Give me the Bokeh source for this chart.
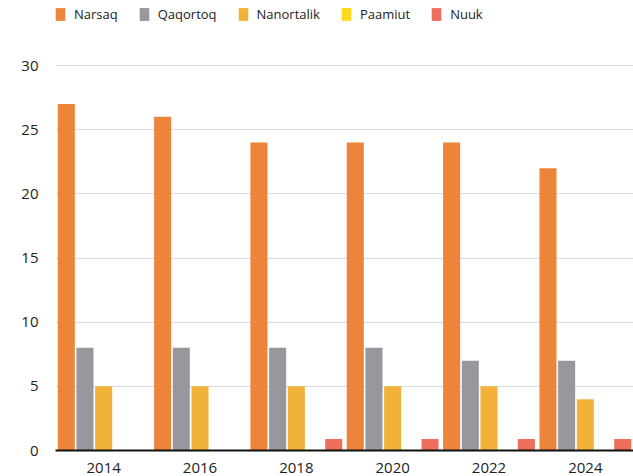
from bokeh.plotting import figure
from bokeh.models import ColumnDataSource, Legend, LegendItem, FactorRange
from bokeh.transform import dodge
from bokeh.embed import file_html
from bokeh.resources import INLINE

years = ["2014", "2016", "2018", "2020", "2022", "2024"]
series = ["Narsaq", "Qaqortoq", "Nanortalik", "Paamiut", "Nuuk"]
narsaq = [27, 26, 24, 24, 24, 22]
qaqortoq = [8, 8, 8, 8, 7, 7]
nanortalik = [5, 5, 5, 5, 5, 4]
paamiut = [0, 0, 0, 0, 0, 0]
nuuk = [0, 0, 0.9, 0.9, 0.9, 0.9]
colors = ["#EC8439", "#96989E", "#F2B23A", "#FFD819", "#EE6F5D"]
yticks = [0, 5, 10, 15, 20, 25, 30]

source = ColumnDataSource(dict(years=years, Narsaq=narsaq, Qaqortoq=qaqortoq,
                               Nanortalik=nanortalik, Paamiut=paamiut, Nuuk=nuuk))

FONT = "Open Sans"
# frame extends to the top of the page so the legend (inside the frame) is not clipped
y_top = 30 * 450 / 385
p = figure(x_range=FactorRange(*years, range_padding=0), y_range=(0, y_top),
           width=633, height=476, output_backend="svg", toolbar_location=None,
           min_border_left=55, min_border_right=0, min_border_top=0, min_border_bottom=26)
p.outline_line_color = None

step = 0.194
offsets = [-2 * step, -step, 0, step, 2 * step]
items = []
for s, c, off in zip(series, colors, offsets):
    r = p.vbar(x=dodge("years", off, range=p.x_range), top=s, width=0.177,
               source=source, color=c, line_color=None)
    items.append(LegendItem(label=s, renderers=[r]))

legend = Legend(items=items, orientation="horizontal", location=(-1, 427),
                padding=0, margin=0, spacing=20, label_standoff=8,
                glyph_width=12, glyph_height=16, label_height=16,
                label_text_font=FONT, label_text_font_size="13px",
                label_text_color="#222222", border_line_color=None,
                background_fill_alpha=0)
p.add_layout(legend, "center")

p.xgrid.grid_line_color = None
p.ygrid.grid_line_color = "#D9D9DE"
p.ygrid.grid_line_width = 1
p.yaxis.ticker = yticks
p.yaxis.axis_line_color = None
p.yaxis.major_tick_line_color = None
p.yaxis.minor_tick_line_color = None
p.yaxis.major_tick_out = 0
p.yaxis.major_tick_in = 0
p.yaxis.major_label_standoff = 17
p.yaxis.major_label_text_font = FONT
p.yaxis.major_label_text_font_size = "15px"
p.yaxis.major_label_text_color = "#222222"

p.xaxis.axis_line_color = "#111111"
p.xaxis.axis_line_width = 2
p.xaxis.major_tick_line_color = None
p.xaxis.minor_tick_line_color = None
p.xaxis.major_tick_out = 0
p.xaxis.major_tick_in = 0
p.xaxis.major_label_standoff = 12
p.xaxis.major_label_text_font = FONT
p.xaxis.major_label_text_font_size = "15px"
p.xaxis.major_label_text_color = "#222222"

open("out.html", "w").write(file_html(p, INLINE))
